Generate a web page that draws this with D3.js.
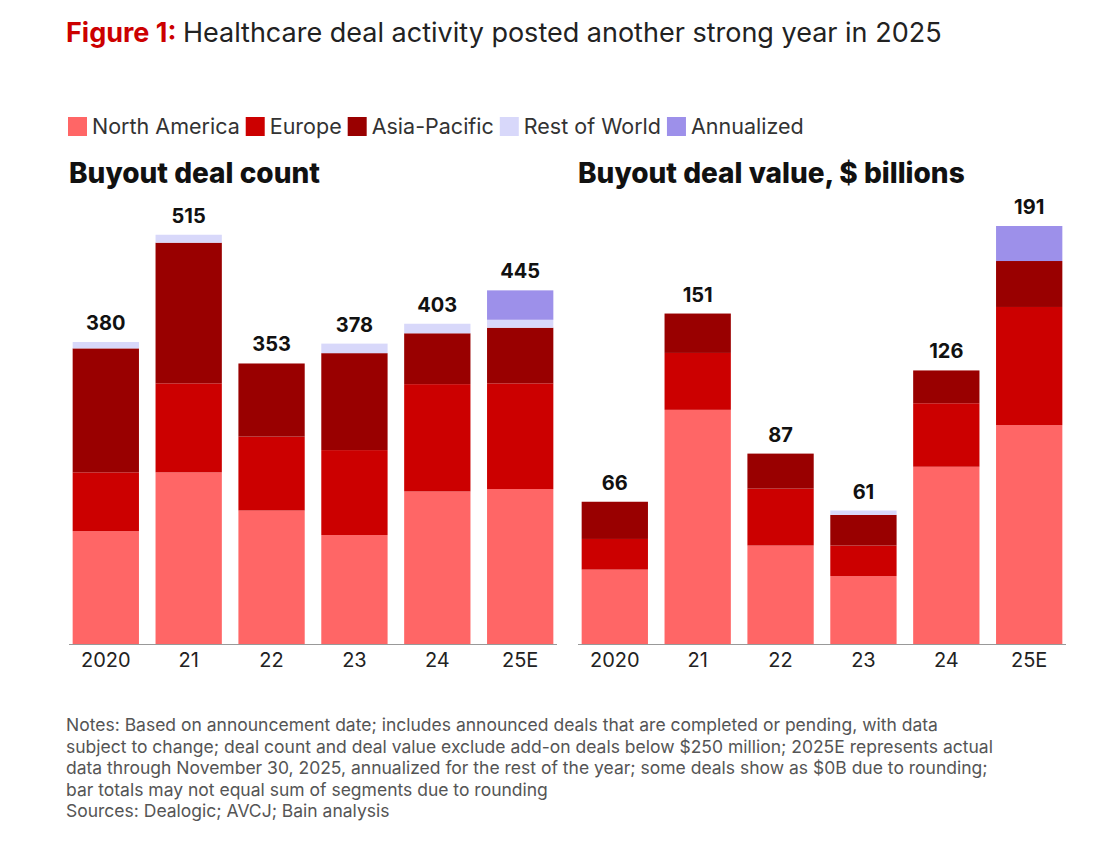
<!DOCTYPE html>
<html><head><meta charset="utf-8">
<script src="https://cdn.jsdelivr.net/npm/d3@7"></script>
<style>body{margin:0;background:#fff;font-family:Inter,"Open Sans",sans-serif;}</style>
</head><body>
<svg id="chart" width="1110" height="860"></svg>
<script>
// Data
const years = ["2020", "21", "22", "23", "24", "25E"];
const keys = ["na", "eu", "ap", "row", "ann"];
const keyNames = ["North America", "Europe", "Asia-Pacific", "Rest of World", "Annualized"];
const colors = ["#ff6666", "#cc0000", "#990000", "#d8d8fa", "#9d90ea"];

const countNA = [142, 216, 168, 137, 192, 195];
const countEU = [74, 112, 93, 107, 135, 133];
const countAP = [156, 177, 92, 122, 64, 70];
const countRoW = [8, 10, 0, 12, 12, 10];
const countAnn = [0, 0, 0, 0, 0, 37];
const countTotals = [380, 515, 353, 378, 403, 445];

const valueNA = [34, 107, 45, 31, 81, 100];
const valueEU = [14, 26, 26, 14, 29, 54];
const valueAP = [17, 18, 16, 14, 15, 21];
const valueRoW = [0, 0, 0, 2, 0, 0];
const valueAnn = [0, 0, 0, 0, 0, 16];
const valueTotals = [66, 151, 87, 61, 126, 191];

const svg = d3.select("#chart");

// Title
const title = svg.append("text").attr("x", 66).attr("y", 42).attr("font-size", 27).attr("fill", "#222");
title.append("tspan").attr("fill", "#cc0000").attr("font-weight", 700).text("Figure 1: ");
title.append("tspan").text("Healthcare deal activity posted another strong year in 2025");

// Legend
let lx = 68;
keyNames.forEach((name, i) => {
    svg.append("rect").attr("x", lx).attr("y", 117).attr("width", 19).attr("height", 19).attr("fill", colors[i]);
    const t = svg.append("text").attr("x", lx + 24).attr("y", 134).attr("font-size", 21.5).attr("fill", "#333").text(name);
    lx += 24 + t.node().getComputedTextLength() + 6;
});

function drawPanel(x0, x1, label, na, eu, ap, row, ann, totals, maxV) {
    svg.append("text").attr("x", x0 - 2).attr("y", 183).attr("font-size", 28)
        .attr("font-weight", 800).attr("fill", "#111").text(label);
    const rows = years.map((y, i) => ({year: y, na: na[i], eu: eu[i], ap: ap[i], row: row[i], ann: ann[i], total: totals[i]}));
    const x = d3.scaleBand().domain(years).range([x0, x1]).paddingInner(0.2).paddingOuter(0.02);
    const y = d3.scaleLinear().domain([0, maxV]).range([644, 226]);
    const stacked = d3.stack().keys(keys)(rows);
    svg.append("g").selectAll("g").data(stacked).join("g")
        .attr("fill", (d, i) => colors[i])
        .selectAll("rect").data(d => d).join("rect")
        .attr("x", d => x(d.data.year))
        .attr("y", d => y(d[1]))
        .attr("width", x.bandwidth())
        .attr("height", d => y(d[0]) - y(d[1]));
    // totals
    svg.append("g").selectAll("text").data(rows).join("text")
        .attr("x", d => x(d.year) + x.bandwidth() / 2)
        .attr("y", d => y(d3.sum(keys, k => d[k])) - 12)
        .attr("text-anchor", "middle").attr("font-size", 20).attr("font-weight", 700).attr("fill", "#111")
        .text(d => d.total);
    // axis
    svg.append("line").attr("x1", x0 - 2).attr("x2", x1 + 2).attr("y1", 644.5).attr("y2", 644.5)
        .attr("stroke", "#999").attr("stroke-width", 1);
    svg.append("g").selectAll("text").data(years).join("text")
        .attr("x", d => x(d) + x.bandwidth() / 2).attr("y", 667)
        .attr("text-anchor", "middle").attr("font-size", 20).attr("fill", "#222").text(d => d);
}

drawPanel(71, 555, "Buyout deal count", countNA, countEU, countAP, countRoW, countAnn, countTotals, 526);
drawPanel(580, 1064, "Buyout deal value, $ billions", valueNA, valueEU, valueAP, valueRoW, valueAnn, valueTotals, 191);

// Notes
const notes = [
    "Notes: Based on announcement date; includes announced deals that are completed or pending, with data",
    "subject to change; deal count and deal value exclude add-on deals below $250 million; 2025E represents actual",
    "data through November 30, 2025, annualized for the rest of the year; some deals show as $0B due to rounding;",
    "bar totals may not equal sum of segments due to rounding",
    "Sources: Dealogic; AVCJ; Bain analysis"
];
svg.append("g").selectAll("text").data(notes).join("text")
    .attr("x", 66).attr("y", (d, i) => 731 + i * 21.5)
    .attr("font-size", 17.5).attr("fill", "#555").text(d => d);
</script>
</body></html>
